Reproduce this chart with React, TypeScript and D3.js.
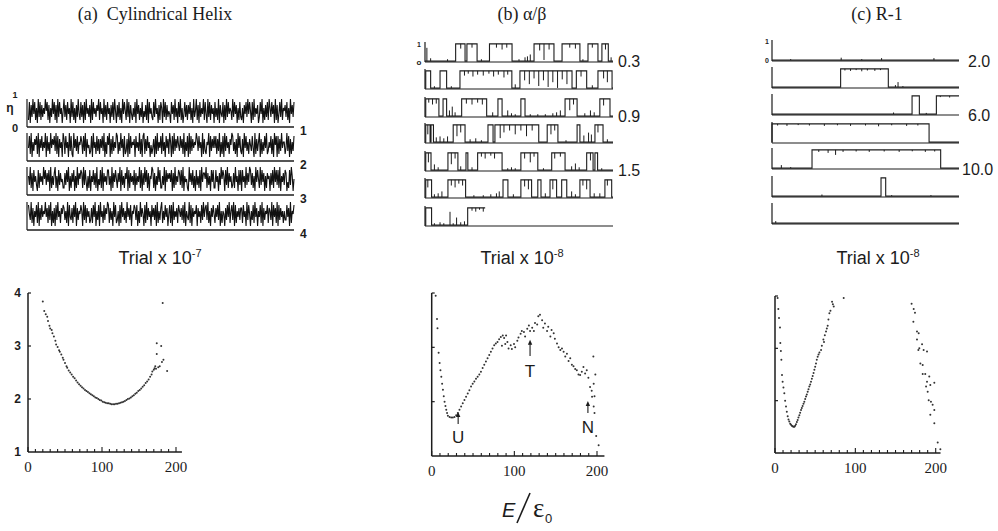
import React from "react";
import * as d3 from "d3";

const SERIF = "'Liberation Serif','Times New Roman',serif";
const SANS = "'Liberation Sans',Arial,sans-serif";
const INK = "#1c1c1c";

// ---------- titles ----------
const panelTitles = ["(a)\u00a0\u00a0Cylindrical Helix", "(b) α/β", "(c) R-1"];
const trialExponents = ["-7", "-8", "-8"];

// ---------- (a) helix η traces, one digit = η×10 ----------
const helixTrace1 =
  "2817394826193827364958271639482719384615937284619382617394283718294637192846375928461937284617382951" +
  "7382619485293817426381947263815372918463283946172861938273541847293618392614837274826193592718364928" +
  "4193827461836291743817293846529384716283261748394851829364713849162738296384719271483926573826194738";
const helixTrace2 =
  "4829163758291748364918362947583928174619728461938219473826586283917452381946283727483916285917283649" +
  "8263947182371928465718463927189273846152471829364829361847296182937485384729163819283746597384619273" +
  "2659183748482739162819384627598362719483271948362753841927369172638492364827195818273946624938172638";
const helixTrace3 =
  "6392718463182746395837481926379261837452273849162748162937587293841628164837291538291746388361927485" +
  "2749183627591827463817364928173948271659827163948226391847574817293648738291645219473826183628194775" +
  "9273618482284617395861839274623729461838184629374983726194852938471627561738294838291647387142839615";
const helixTrace4 =
  "8539271648291738465947283916271839462758736291843728491736586193827462372849163819462837598273619482" +
  "3618294736294738165873816294751829374618473819263792638471582819364728647382916439281746581746283947" +
  "8392617485274839162651738492683918264737728461938516382947164829173658276391847291837462633847192658";
const helixTraces = [helixTrace1, helixTrace2, helixTrace3, helixTrace4];
const helixTraceLabels = ["1", "2", "3", "4"];

// ---------- (b) α/β two-state traces (positions in % of trial axis) ----------
const abStates: number[][][] = [
  [[16.3, 21.3], [22.3, 27.7], [34.3, 46.3], [58, 68.6], [72.9, 82.4], [86.7, 92], [94.1, 97.5]],
  [[0.4, 3], [8, 11.5], [18.6, 46.2], [50.5, 78.2], [80.5, 86], [92, 99.5]],
  [[0.4, 7.4], [9.6, 11.5], [19.5, 32.8], [38.8, 41], [51, 53.2], [74.5, 80.9], [93, 98.4]],
  [[0.4, 2.7], [3.2, 4.5], [15, 21.3], [33.5, 36.2], [37.2, 60.5], [65, 70.7], [80.9, 82.4], [90.4, 94.7]],
  [[0.4, 3.2], [12.2, 17.5], [21.8, 22.8], [28, 41], [51, 60], [67.4, 74.5], [86, 89.4], [90.4, 91.8]],
  [[0.4, 3.5], [12.2, 21.6], [41.5, 44.1], [51, 56.7], [60, 61.7], [66.5, 70], [72.7, 75.4], [82.4, 87.8], [95.7, 99.3]],
  [[0.4, 3.5], [22.7, 32]],
];
const abSpikes: number[][][] = [
  [[1, 0.7], [3, 0.15], [12, 0.1], [30, 0.1], [50, 0.1], [53.2, 0.2], [54.5, 0.25], [56, 0.35], [84, 0.1], [99, 0.2]],
  [[5, 0.1], [14, 0.1], [48, 0.2], [89, 0.15]],
  [[13, 0.3], [14.5, 0.5], [16, 0.2], [36, 0.2], [44, 0.3], [46, 0.15], [48, 0.1], [56, 0.1], [60, 0.1], [64, 0.1], [68, 0.15], [70, 0.2], [72, 0.3], [85, 0.15], [88, 0.3], [90, 0.2]],
  [[6, 0.25], [8, 0.3], [10, 0.2], [12, 0.3], [24, 0.15], [27, 0.2], [30, 0.1], [75, 0.1], [84.5, 0.35], [87, 0.5], [88.5, 0.4], [97, 0.15]],
  [[5, 0.3], [7, 0.15], [19, 0.2], [25, 0.15], [44, 0.1], [46, 0.15], [48, 0.1], [63, 0.1], [78, 0.2], [80, 0.35], [82, 0.15], [94, 0.1]],
  [[5, 0.15], [7, 0.2], [9, 0.3], [26, 0.1], [31, 0.1], [35, 0.15], [38, 0.2], [39.5, 0.3], [47, 0.15], [64, 0.2], [78, 0.3], [80, 0.15], [90, 0.2], [93, 0.2]],
  [[5, 0.1], [8, 0.15], [10, 0.1], [13.3, 0.7], [15, 0.1], [16.8, 0.4], [19, 0.15], [21, 0.2]],
];
const abDips: number[][][] = [
  [[19, 0.25], [25, 0.2], [38, 0.2], [41, 0.3], [43.5, 0.2], [61, 0.35], [63.3, 0.85], [66, 0.3], [77, 0.2], [80, 0.25], [89, 0.2], [96, 0.3]],
  [[21, 0.25], [23, 0.15], [25.5, 0.3], [28, 0.2], [31, 0.25], [34, 0.15], [36.5, 0.3], [39, 0.2], [42, 0.35], [44, 0.2], [53, 0.5], [55.5, 0.7], [58, 0.4], [60.5, 0.8], [63, 0.5], [65.5, 0.85], [68, 0.6], [70.5, 0.9], [73, 0.45], [75.5, 0.7], [83, 0.3], [95, 0.4], [97, 0.6]],
  [[2, 0.2], [4, 0.3], [6, 0.25], [22, 0.25], [25, 0.3], [28, 0.2], [30.5, 0.3], [77, 0.6], [79, 0.3], [95, 0.35]],
  [[1.5, 0.5], [17, 0.6], [19, 0.4], [40, 0.7], [42, 0.4], [45, 0.3], [48, 0.5], [51, 0.3], [54, 0.6], [57, 0.3], [67, 0.5], [69, 0.3], [92, 0.4]],
  [[1.8, 0.5], [14, 0.6], [16, 0.3], [30, 0.2], [32, 0.3], [35, 0.15], [37, 0.3], [53, 0.3], [56, 0.5], [58, 0.2], [69, 0.3], [72, 0.2], [88, 0.4]],
  [[1.5, 0.4], [14, 0.3], [16, 0.4], [18, 0.2], [20, 0.3], [53, 0.35], [55, 0.5], [68, 0.5], [84, 0.3], [86, 0.5], [97, 0.3]],
  [[25, 0.15], [27, 0.2], [29, 0.1], [31, 0.2]],
];
const abTraceEnds = [100, 100, 100, 100, 100, 100, 32];
const abStripLabels = ["0.3", "", "0.9", "", "1.5", "", ""];

// ---------- (c) R-1 two-state traces ----------
const r1States: number[][][] = [
  [],
  [[36.7, 62.2]],
  [[74.9, 78.8], [87.9, 100]],
  [[0, 84]],
  [[21.4, 90.2]],
  [[58.3, 60.8]],
  [],
];
const r1Spikes: number[][][] = [
  [[10, 0.05], [37, 0.12], [48, 0.05], [58.6, 0.1], [86.6, 0.1]],
  [[66, 0.1], [67.4, 0.25], [70, 0.05]],
  [[65, 0.08], [82.5, 0.06]],
  [],
  [[5, 0.15], [10, 0.05]],
  [[26.7, 0.08], [64, 0.05], [85, 0.05]],
  [[2, 0.1]],
];
const r1Dips: number[][][] = [
  [],
  [[39, 0.08], [42, 0.1], [45, 0.06], [48, 0.12], [51, 0.08], [55, 0.1], [58, 0.06]],
  [[90, 0.06], [95, 0.08]],
  [[3, 0.08], [8, 0.1], [14, 0.06], [20, 0.08], [28, 0.1], [35, 0.07], [42, 0.1], [50, 0.08], [57, 0.12], [64, 0.07], [72, 0.1], [78, 0.08]],
  [[25, 0.1], [30, 0.15], [34, 0.25], [38, 0.1], [45, 0.08], [52, 0.1], [60, 0.08], [68, 0.1], [75, 0.07], [82, 0.1], [87, 0.08]],
  [],
  [],
];
const r1TraceEnds = [100, 100, 100, 100, 100, 100, 100];
const r1StripLabels = ["2.0", "", "6.0", "", "10.0", "", ""];

// ---------- bottom: free energy vs E/ε0 ----------
const helixEnergy: number[][] = [
  [20, 3.84], [22, 3.66], [24, 3.6], [26, 3.55], [27, 3.47], [29, 3.38], [30, 3.33], [32, 3.3], [33, 3.24], [35, 3.18],
  [37, 3.1], [38, 3.03], [40, 2.98], [42, 2.92], [43, 2.89], [45, 2.84], [47, 2.78], [48, 2.74], [50, 2.68], [52, 2.62],
  [53, 2.59], [55, 2.54], [57, 2.5], [59, 2.46], [61, 2.42], [63, 2.39], [65, 2.35], [67, 2.31], [69, 2.28], [71, 2.25],
  [73, 2.22], [75, 2.2], [77, 2.17], [79, 2.15], [81, 2.13], [83, 2.11], [85, 2.09], [87, 2.07], [89, 2.05], [91, 2.03],
  [93, 2.02], [95, 2.0], [97, 1.98], [99, 1.97], [101, 1.95], [103, 1.94], [105, 1.93], [107, 1.92], [109, 1.92], [111, 1.91],
  [113, 1.9], [115, 1.9], [117, 1.9], [119, 1.91], [121, 1.91], [123, 1.92], [125, 1.93], [127, 1.94], [129, 1.95], [131, 1.96],
  [133, 1.98], [135, 2.0], [137, 2.01], [139, 2.03], [141, 2.05], [143, 2.07], [145, 2.1], [147, 2.12], [149, 2.15], [151, 2.17],
  [153, 2.2], [155, 2.23], [157, 2.26], [159, 2.3], [161, 2.33], [163, 2.37], [165, 2.42], [167, 2.46], [168, 2.52], [170, 2.55],
  [171, 2.58], [172, 2.62], [173, 2.57], [174, 2.85], [174, 3.05], [176, 2.6], [178, 2.62], [180, 3.0], [181, 2.7], [182, 3.81],
  [183, 2.74], [188, 2.53],
];
const alphaBetaEnergy: number[][] = [
  [4.8, 3.95], [6.4, 3.52], [7, 3.35], [8.4, 2.9], [9.6, 2.71], [10.6, 2.58], [11.6, 2.46], [12.6, 2.33], [13.6, 2.22], [14.6, 2.1],
  [15.6, 2.0], [16.6, 1.92], [17.6, 1.85], [18.6, 1.79], [19.6, 1.74], [21.6, 1.72], [23.6, 1.71], [25.6, 1.71], [27.6, 1.72], [29.6, 1.75],
  [31.6, 1.79], [33.6, 1.85], [35.6, 1.91], [37.6, 1.97], [39.6, 2.03], [41.6, 2.09], [43.6, 2.15], [45.6, 2.21], [47.6, 2.28], [49.6, 2.33],
  [51.6, 2.37], [53.6, 2.42], [55.6, 2.46], [57.6, 2.5], [59.6, 2.55], [61.6, 2.62], [63.6, 2.68], [65.6, 2.74], [67.6, 2.8], [69.6, 2.86],
  [71.6, 2.92], [73.6, 2.98], [75.6, 3.04], [77.6, 3.07], [79.6, 3.1], [81.6, 3.15], [83.6, 3.19], [85, 3.03], [86, 3.22], [87.6, 3.17],
  [89, 3.06], [90, 3.22], [91.6, 3.1], [93, 2.98], [95.6, 3.04], [97, 2.97], [99.6, 3.06], [101, 3.0], [103.6, 3.12], [105, 3.18],
  [107.6, 3.25], [109, 3.3], [111.6, 3.28], [113, 3.2], [115.6, 3.34], [117.6, 3.4], [119, 3.3], [121.6, 3.36], [123.6, 3.3], [125, 3.45],
  [127.6, 3.42], [129, 3.57], [131, 3.6], [133.6, 3.5], [135, 3.36], [137, 3.44], [139.6, 3.3], [141, 3.38], [143.6, 3.2], [145, 3.32],
  [147.6, 3.26], [149, 3.16], [151.6, 3.07], [153.6, 3.0], [155.6, 2.95], [157.6, 2.98], [159.6, 2.92], [161.6, 2.83], [163.6, 2.88], [165.6, 2.75],
  [167.6, 2.8], [169.6, 2.68], [171.6, 2.65], [173.6, 2.6], [175.6, 2.58], [177.6, 2.5], [179.6, 2.49], [181.6, 2.55], [183.6, 2.64], [185.6, 2.52],
  [187.6, 2.58], [189.6, 2.44], [191.6, 2.27], [193.6, 2.2], [194, 2.09], [195.6, 2.83], [196, 2.33], [197, 2.1], [196, 1.91], [197, 1.79],
  [199, 1.37], [202, 1.2], [198, 2.5],
];
const r1Energy: number[][] = [
  [3.3, 3.96], [4.1, 3.75], [5, 3.58], [6.2, 3.4], [6.6, 3.1], [7.3, 2.95], [7.9, 2.78], [8.7, 2.49], [9.5, 2.36], [10.5, 2.25],
  [11.6, 2.14], [12.6, 2.0], [13.7, 1.89], [14.7, 1.79], [15.8, 1.7], [16.8, 1.64], [17.8, 1.6], [18.9, 1.56], [19.9, 1.54], [21, 1.52],
  [22, 1.51], [23, 1.5], [24.1, 1.5], [25.1, 1.52], [26.1, 1.55], [27.2, 1.59], [28.2, 1.63], [29.2, 1.68], [30.3, 1.72], [31.3, 1.77],
  [32.4, 1.82], [33.4, 1.86], [34.4, 1.9], [35.5, 1.94], [36.5, 1.98], [37.6, 2.03], [38.6, 2.08], [39.6, 2.12], [40.7, 2.17], [41.7, 2.22],
  [42.7, 2.27], [43.8, 2.31], [44.8, 2.36], [45.9, 2.42], [46.9, 2.47], [48, 2.53], [49, 2.59], [50, 2.65], [51, 2.71], [52, 2.78],
  [53.1, 2.84], [54.2, 2.88], [55.3, 2.92], [57.3, 2.97], [58.3, 3.05], [60.2, 3.17], [61, 3.12], [62, 3.25], [63.5, 3.32], [64.5, 3.38],
  [65.6, 3.43], [66.5, 3.55], [67.7, 3.67], [69, 3.72], [71, 3.89], [72, 3.84], [73.1, 3.8], [85.5, 3.96],
  [170, 3.85], [172.6, 3.75], [174.2, 3.68], [172.2, 3.51], [176.7, 3.32], [178.8, 3.29], [176.7, 3.17], [179.6, 3.0], [183, 3.08], [178.4, 2.97],
  [185, 2.97], [189.2, 2.94], [180.9, 2.71], [183.8, 2.68], [183.8, 2.51], [187, 2.51], [192, 2.46], [189.2, 2.36], [188, 2.27], [193.3, 2.3],
  [198.3, 2.34], [190, 2.17], [191.3, 2.01], [194.1, 1.98], [196.2, 1.92], [193.3, 1.73], [198.3, 1.82], [198.3, 1.57], [202.5, 1.2], [205.8, 1.07],
];
const energyXTicks = [0, 100, 200];
const helixYTicks = [1, 2, 3, 4];
const abAnnotations = [
  { label: "U", e: 32, head: 1.81, tail: 1.59, labelV: 1.24 },
  { label: "T", e: 119, head: 3.14, tail: 2.84, labelV: 2.45 },
  { label: "N", e: 189, head: 2.01, tail: 1.79, labelV: 1.42 },
];

// ---------- layout ----------
const titleX = [155, 522, 877];
const trialX = [160, 522, 878];
const helixStrip = { x0: 27, x1: 294, bases: [127, 161, 195, 230], amp: 30 };
const abStrip = { x0: 425, x1: 613, bases: [62, 89, 117, 143, 171, 198, 226], amp: 19 };
const r1Strip = { x0: 772, x1: 959, bases: [61, 88, 115, 143, 169, 197, 224], amp: 20 };

function StateStrip(props: {
  x0: number; x1: number; base: number; amp: number;
  states: number[][]; spikes: number[][]; dips: number[][]; end: number;
}) {
  const { x0, x1, base, amp, states, spikes, dips, end } = props;
  const x = d3.scaleLinear().domain([0, 100]).range([x0, x1]);
  const y = d3.scaleLinear().domain([0, 1]).range([base - 0.5, base - 0.5 - amp]);
  const off = 0.02, on = 0.93;
  const p = d3.path();
  p.moveTo(x(0), y(off));
  let stopped = false;
  states.forEach(([s, e]) => {
    if (stopped) return;
    p.lineTo(x(s), y(off));
    p.lineTo(x(s), y(on));
    p.lineTo(x(Math.min(e, end)), y(on));
    if (e >= end) { stopped = true; return; }
    p.lineTo(x(e), y(off));
  });
  if (!stopped) p.lineTo(x(end), y(off));
  return (
    <g>
      <line x1={x0} x2={x1} y1={base} y2={base} stroke={INK} strokeWidth={1.2} />
      <line x1={x0} x2={x0} y1={base} y2={base - amp - 1} stroke={INK} strokeWidth={1.2} />
      <path d={p.toString()} fill="none" stroke={INK} strokeWidth={1.1} />
      {spikes.map(([s, h], i) => (
        <line key={"s" + i} x1={x(s)} x2={x(s)} y1={y(off)} y2={y(off + h)} stroke={INK} strokeWidth={1} />
      ))}
      {dips.map(([s, h], i) => (
        <line key={"d" + i} x1={x(s)} x2={x(s)} y1={y(on)} y2={y(on - h)} stroke={INK} strokeWidth={1} />
      ))}
    </g>
  );
}

function HelixStrips() {
  const { x0, x1, bases, amp } = helixStrip;
  return (
    <g>
      {helixTraces.map((tr, i) => {
        const base = bases[i];
        const vals = tr.split("").map((c) => Number(c) / 10);
        const xs = d3.scaleLinear().domain([0, vals.length - 1]).range([x0 + 1.5, x1]);
        const y = d3.scaleLinear().domain([0, 1]).range([base - 1, base - 1 - amp]);
        const line = d3.line<number>().x((_, j) => xs(j)).y((d) => y(d));
        return (
          <g key={i}>
            <path d={line(vals) || ""} fill="none" stroke="#111" strokeWidth={1.1} />
            <line x1={x0} x2={x1} y1={base} y2={base} stroke={INK} strokeWidth={1.3} />
            <line x1={x0} x2={x0} y1={base} y2={base - amp + 2} stroke={INK} strokeWidth={1.2} />
            <text x={x1 + 6} y={base + 8} fontFamily={SANS} fontSize={12} fontWeight={600} fill={INK}>
              {helixTraceLabels[i]}
            </text>
          </g>
        );
      })}
      <text x={15} y={98} fontFamily={SANS} fontSize={9} fontWeight={700} textAnchor="middle" fill={INK}>1</text>
      <text x={10} y={112} fontFamily={SANS} fontSize={12} fontWeight={600} textAnchor="middle" fill={INK}>η</text>
      <text x={15} y={132} fontFamily={SANS} fontSize={11} fontWeight={700} textAnchor="middle" fill={INK}>0</text>
    </g>
  );
}

function EnergyPanel(props: {
  x0: number; x200: number; eMax: number; y1: number; y4: number;
  data: number[][]; yLabels: boolean;
}) {
  const { x0, x200, eMax, y1, y4, data, yLabels } = props;
  const x = d3.scaleLinear().domain([0, 200]).range([x0, x200]);
  const y = d3.scaleLinear().domain([1, 4]).range([y1, y4]);
  const minor = d3.range(0, eMax, 10);
  return (
    <g>
      <line x1={x(0)} x2={x(eMax)} y1={y(1)} y2={y(1)} stroke={INK} strokeWidth={1.5} />
      <line x1={x(0)} x2={x(0)} y1={y(1)} y2={y(4)} stroke={INK} strokeWidth={1.5} />
      <line x1={x(0)} x2={x(0) + 3} y1={y(4)} y2={y(4)} stroke={INK} strokeWidth={1.2} />
      {minor.map((e) => (
        <line key={e} x1={x(e)} x2={x(e)} y1={y(1)} y2={y(1) - (e % 100 === 0 ? 5 : 3)} stroke={INK} strokeWidth={1.1} />
      ))}
      {[2, 3].map((v) => (
        <line key={v} x1={x(0)} x2={x(0) + 3} y1={y(v)} y2={y(v)} stroke={INK} strokeWidth={1.2} />
      ))}
      {energyXTicks.map((e) => (
        <text key={e} x={x(e)} y={y(1) + 20} fontFamily={SERIF} fontSize={15} textAnchor="middle" fill={INK}>{e}</text>
      ))}
      {yLabels && helixYTicks.map((v) => (
        <text key={v} x={x(0) - 7} y={y(v) + 4} fontFamily={SANS} fontSize={12} fontWeight={700} textAnchor="end" fill={INK}>{v}</text>
      ))}
      {data.map(([e, v], i) => (
        <circle key={i} cx={x(e)} cy={y(v)} r={1} fill="#333" />
      ))}
    </g>
  );
}

function Annotations() {
  const x = d3.scaleLinear().domain([0, 200]).range([431.7, 597]);
  const y = d3.scaleLinear().domain([1, 4]).range([456, 293]);
  return (
    <g>
      {abAnnotations.map((a) => (
        <g key={a.label}>
          <line x1={x(a.e)} x2={x(a.e)} y1={y(a.tail)} y2={y(a.head) + 3} stroke={INK} strokeWidth={1.1} />
          <path d={`M${x(a.e)},${y(a.head)}L${x(a.e) - 2.2},${y(a.head) + 5}L${x(a.e) + 2.2},${y(a.head) + 5}Z`} fill={INK} />
          <text x={x(a.e)} y={y(a.labelV)} fontFamily={SANS} fontSize={17} textAnchor="middle" fill={INK}>{a.label}</text>
        </g>
      ))}
    </g>
  );
}

export default function App() {
  return (
    <svg width={998} height={531} viewBox="0 0 998 531" style={{ position: "absolute", left: 0, top: 0, background: "#fff" }}>
      <rect width={998} height={531} fill="#fff" />
      {panelTitles.map((t, i) => (
        <text key={t} x={titleX[i]} y={20} fontFamily={SERIF} fontSize={18} textAnchor="middle" fill={INK}>{t}</text>
      ))}
      {trialExponents.map((ex, i) => (
        <text key={i} x={trialX[i]} y={264} fontFamily={SANS} fontSize={18} textAnchor="middle" fill={INK}>
          Trial x 10<tspan fontSize={11} dy={-7}>{ex}</tspan>
        </text>
      ))}

      <HelixStrips />

      {abStates.map((st, i) => (
        <StateStrip key={"ab" + i} x0={abStrip.x0} x1={abStrip.x1} base={abStrip.bases[i]} amp={abStrip.amp}
          states={st} spikes={abSpikes[i]} dips={abDips[i]} end={abTraceEnds[i]} />
      ))}
      {abStripLabels.map((l, i) => l ? (
        <text key={"abl" + i} x={618} y={abStrip.bases[i] + 5} fontFamily={SANS} fontSize={16} fill={INK}>{l}</text>
      ) : null)}
      <text x={419} y={47} fontFamily={SANS} fontSize={7} fontWeight={700} textAnchor="middle" fill={INK}>1</text>
      <text x={419} y={65} fontFamily={SANS} fontSize={8} fontWeight={700} textAnchor="middle" fill={INK}>o</text>

      {r1States.map((st, i) => (
        <StateStrip key={"r1" + i} x0={r1Strip.x0} x1={r1Strip.x1} base={r1Strip.bases[i]} amp={r1Strip.amp}
          states={st} spikes={r1Spikes[i]} dips={r1Dips[i]} end={r1TraceEnds[i]} />
      ))}
      {r1StripLabels.map((l, i) => l ? (
        <text key={"r1l" + i} x={l.length > 3 ? 962 : 968} y={r1Strip.bases[i] + 6} fontFamily={SANS} fontSize={16} fill={INK}>{l}</text>
      ) : null)}
      <text x={767} y={44} fontFamily={SANS} fontSize={7} fontWeight={700} textAnchor="middle" fill={INK}>1</text>
      <text x={767} y={63} fontFamily={SANS} fontSize={7} fontWeight={700} textAnchor="middle" fill={INK}>0</text>

      <EnergyPanel x0={28} x200={176} eMax={208} y1={452} y4={293} data={helixEnergy} yLabels={true} />
      <EnergyPanel x0={431.7} x200={597} eMax={209} y1={456} y4={293} data={alphaBetaEnergy} yLabels={false} />
      <EnergyPanel x0={775} x200={935.7} eMax={206} y1={453} y4={296} data={r1Energy} yLabels={false} />
      <Annotations />

      <g fill={INK}>
        <text x={502} y={517} fontFamily={SANS} fontSize={20} fontStyle="italic">E</text>
        <line x1={517} y1={523} x2={530} y2={493} stroke={INK} strokeWidth={1.6} />
        <text x={533} y={517} fontFamily={SERIF} fontSize={27}>ε</text>
        <text x={545} y={523} fontFamily={SANS} fontSize={13}>0</text>
      </g>
    </svg>
  );
}
